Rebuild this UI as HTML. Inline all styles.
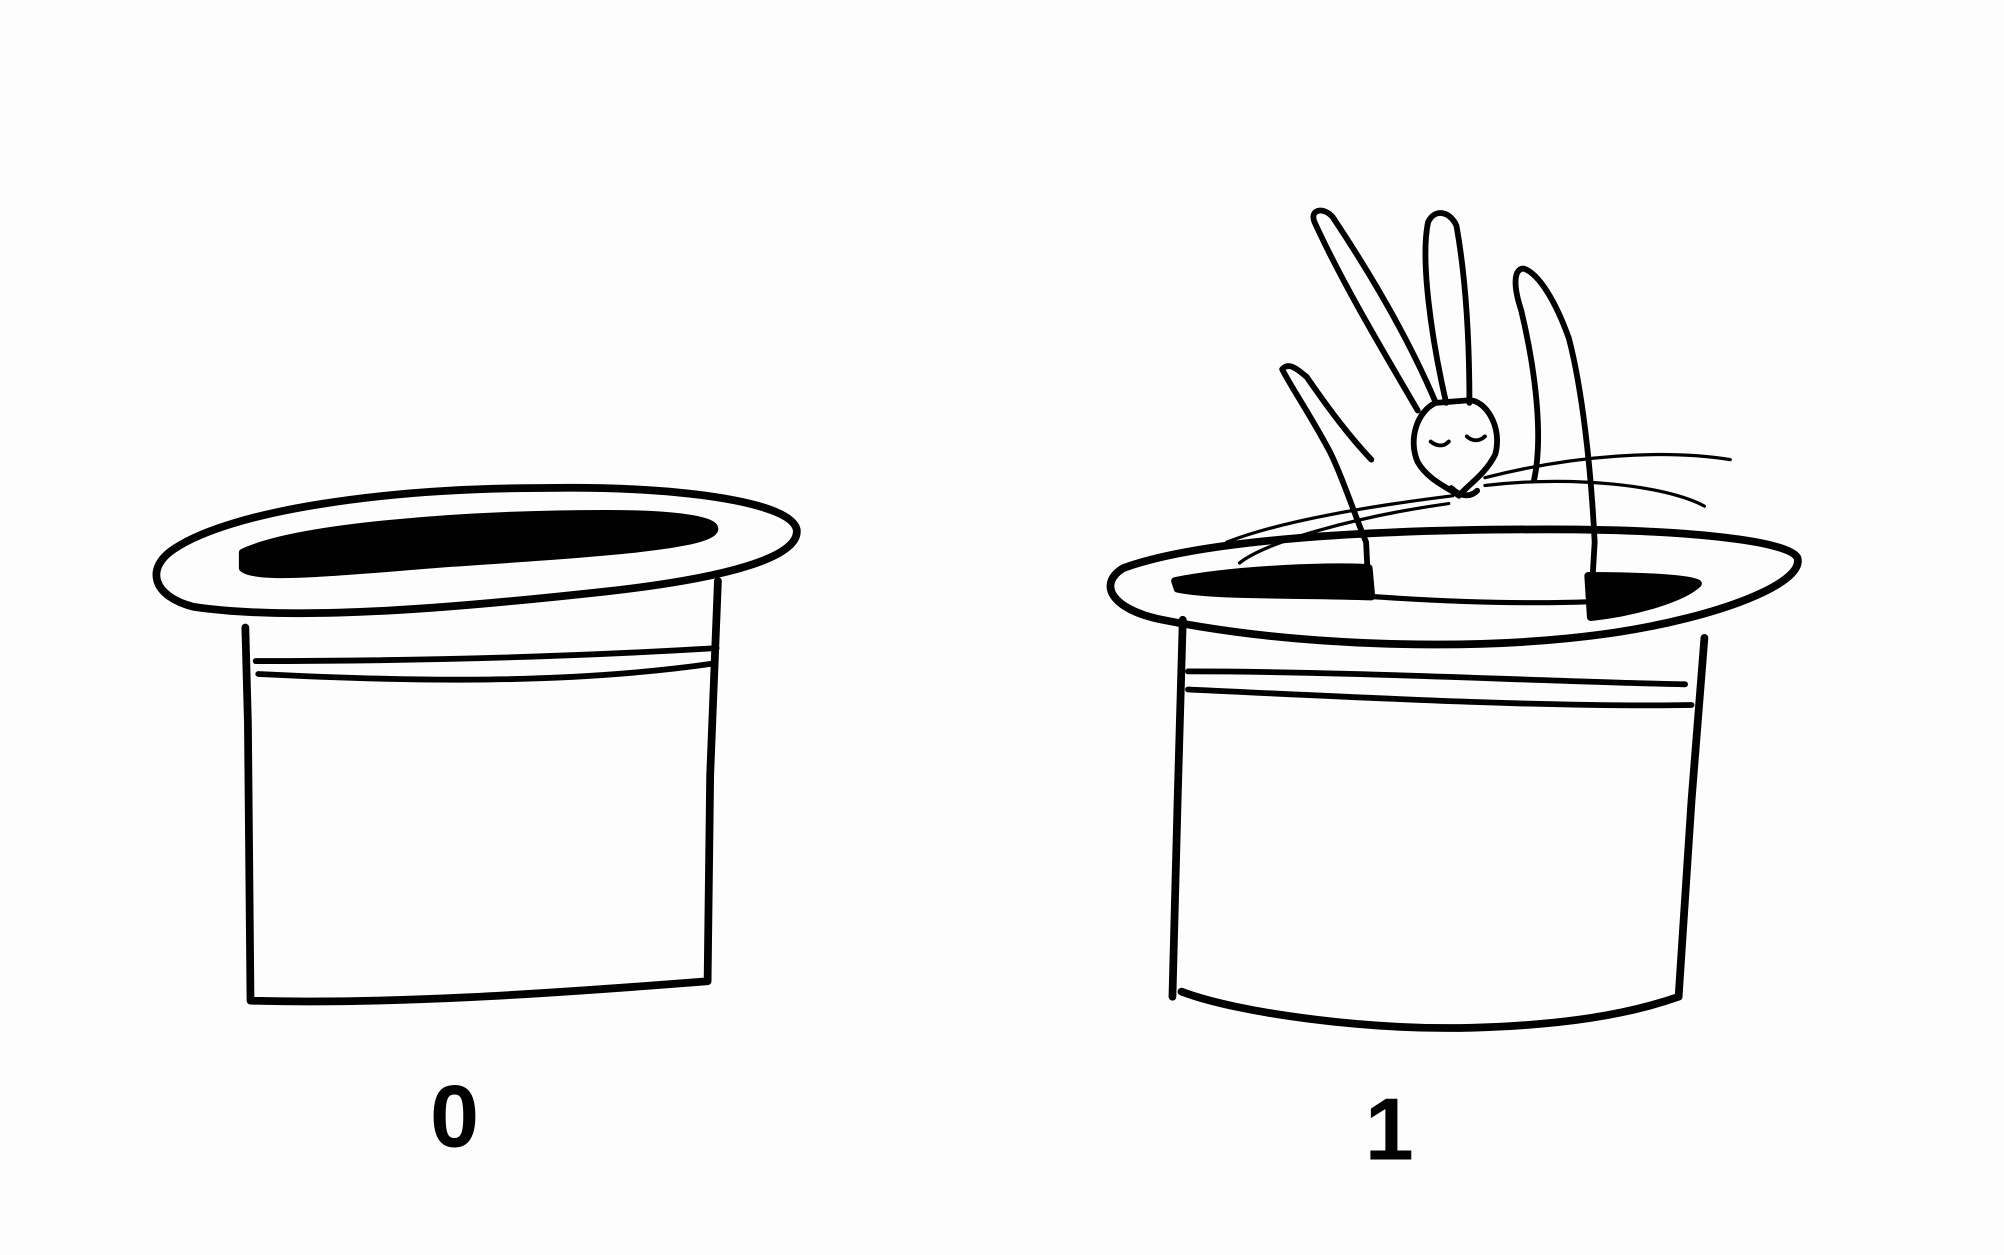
<!DOCTYPE html>
<html><head><meta charset="utf-8"><style>
html,body{margin:0;padding:0;background:#fff;}
svg{display:block;}
</style></head><body>
<svg width="2004" height="1255" viewBox="0 0 1552 972" preserveAspectRatio="none" xmlns="http://www.w3.org/2000/svg">
<rect width="1552" height="972" fill="#fdfdfd"/>
<g fill="none" stroke="#000" stroke-width="6" stroke-linecap="round" stroke-linejoin="round">
  <g>
    <path d="M135,425 C180,395 300,378 420,378 C520,376 612,388 617,410 C620,432 560,448 470,458 C360,470 230,482 150,470 C118,462 112,440 135,425 Z"/>
    <path fill="#000" d="M188,428 C230,408 360,398 470,398 C530,398 560,404 552,412 C540,424 440,430 350,436 C270,442 200,450 188,440 Z"/>
    <path d="M190,486 L192,560 L194,775 C300,778 420,770 548,760 L550,600 L556,450"/>
    <path stroke-width="4.5" d="M198,512 C300,512 420,510 555,502 M200,522 C320,528 440,530 552,514"/>
  </g>
  <g>
    <path d="M870,440 C930,418 1060,410 1200,410 C1300,410 1385,418 1392,432 C1398,452 1330,478 1250,490 C1140,506 1000,500 900,480 C860,472 850,452 870,440 Z"/>
    <path fill="#000" d="M910,450 C960,440 1040,438 1060,440 L1062,462 C1010,460 940,462 912,456 Z M1230,446 C1270,446 1310,448 1315,452 C1305,462 1270,474 1232,478 Z"/>
    <path stroke-width="4" d="M1062,462 C1120,466 1180,468 1232,466"/>
    <path d="M916,480 L912,620 L908,772 M915,768 C960,785 1060,798 1140,796 C1210,794 1260,786 1300,772 L1310,620 L1320,494"/>
    <path stroke-width="4.5" d="M920,520 C1050,520 1200,528 1305,530 M920,534 C1050,540 1200,548 1310,546"/>
  </g>
  <g stroke-width="4.5">
    <path d="M1098,318 C1070,270 1040,220 1018,172 C1014,162 1025,160 1032,168 C1060,210 1090,260 1112,312"/>
    <path d="M1120,312 C1108,260 1100,200 1106,172 C1112,160 1124,165 1128,175 C1136,220 1138,270 1138,312"/>
    <path d="M1112,312 C1098,318 1090,340 1098,358 C1106,372 1122,378 1130,384 C1136,376 1150,368 1158,352 C1164,330 1150,310 1138,310 Z"/>
    <path stroke-width="3" d="M1108,342 C1113,346 1118,346 1122,342 M1136,338 C1140,342 1146,342 1150,338"/>
    <path d="M1124,378 C1130,384 1138,386 1144,380"/>
    <path d="M1060,462 L1058,420 C1048,396 1040,370 1030,350 C1014,320 1000,300 993,286 C998,280 1005,286 1012,292 C1030,318 1045,338 1062,356"/>
    <path d="M1232,470 L1235,420 C1232,360 1225,300 1215,262 C1205,234 1192,212 1180,208 C1172,208 1172,222 1178,240 C1190,290 1195,340 1188,372"/>
    <path stroke-width="2.5" d="M1150,370 C1220,352 1290,348 1340,356 M1150,376 C1220,368 1290,376 1320,392 M1125,384 C1060,392 990,404 950,420 M1122,390 C1050,400 980,420 960,436"/>
  </g>
</g>
<text x="352" y="888" font-family="Liberation Sans, sans-serif" font-size="68" font-weight="bold" text-anchor="middle" fill="#000">0</text>
<text x="1076" y="898" font-family="Liberation Sans, sans-serif" font-size="68" font-weight="bold" text-anchor="middle" fill="#000">1</text>
</svg>
</body></html>
